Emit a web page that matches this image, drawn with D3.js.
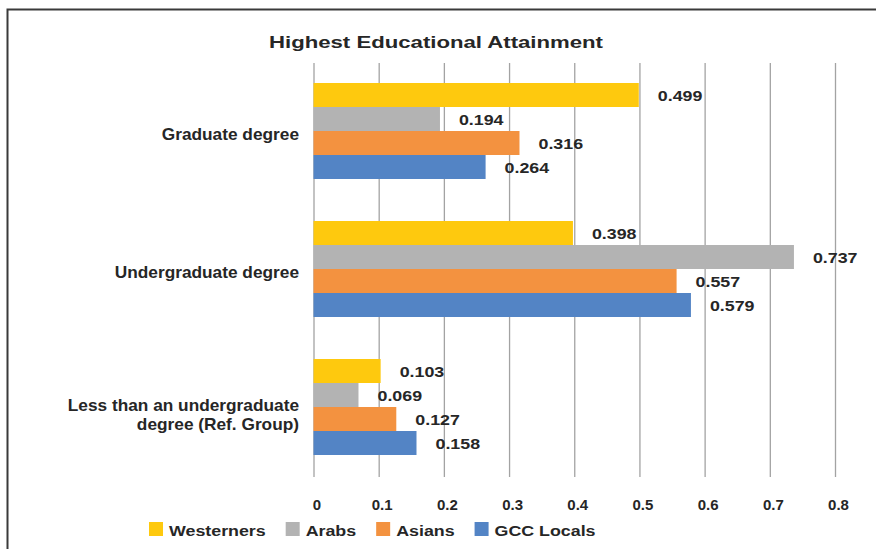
<!DOCTYPE html>
<html>
<head>
<meta charset="utf-8">
<script src="https://cdn.jsdelivr.net/npm/d3@7"></script>
<style>
  html, body { margin: 0; padding: 0; background: #fff; }
  svg { display: block; font-family: "Liberation Sans", Arial, Helvetica, sans-serif; }
</style>
</head>
<body>
<svg id="chart" width="876" height="549"></svg>
<script>
// ---- data ----
const chartTitle = "Highest Educational Attainment";
const categories = ["Graduate degree", "Undergraduate degree", "Less than an undergraduate\ndegree (Ref. Group)"];
const seriesNames = ["Westerners", "Arabs", "Asians", "GCC Locals"];
const westerners = [0.499, 0.398, 0.103];
const arabs      = [0.194, 0.737, 0.069];
const asians     = [0.316, 0.557, 0.127];
const gccLocals  = [0.264, 0.579, 0.158];
const tickValues = [0, 0.1, 0.2, 0.3, 0.4, 0.5, 0.6, 0.7, 0.8];
const tickLabels = ["0", "0.1", "0.2", "0.3", "0.4", "0.5", "0.6", "0.7", "0.8"];
const seriesColors = ["#FEC90E", "#B3B3B3", "#F39240", "#5384C5"];

const seriesValues = [westerners, arabs, asians, gccLocals];
const rows = [];
categories.forEach((c, ci) => {
  seriesNames.forEach((s, si) => rows.push({ category: c, series: s, si, value: seriesValues[si][ci] }));
});

const svg = d3.select("#chart");
const textColor = "#262626";

// frame
svg.append("rect")
  .attr("x", 7.5).attr("y", 9.5)
  .attr("width", 900).attr("height", 600)
  .attr("fill", "none").attr("stroke", "#3a3a3a").attr("stroke-width", 2);

// scales
const plotTop = 63, plotBottom = 477;
const x = d3.scaleLinear().domain([0, 0.8]).range([313.5, 835]);
const y0 = d3.scaleBand().domain(categories).range([plotTop - 1, plotBottom - 1]).padding(0);
const y1 = d3.scaleBand().domain(seriesNames).range([0, y0.bandwidth()])
  .paddingInner(0).paddingOuter(0.875);
const color = d3.scaleOrdinal().domain(seriesNames).range(seriesColors);

// gridlines + tick labels via axis
const axis = d3.axisBottom(x)
  .tickValues(tickValues)
  .tickFormat((d, i) => tickLabels[i])
  .tickSize(-(plotBottom - plotTop))
  .tickPadding(22);
const gAxis = svg.append("g").attr("transform", `translate(0,${plotBottom})`).call(axis);
gAxis.select(".domain").remove();
gAxis.selectAll(".tick line").attr("stroke", "#a3a3a3").attr("stroke-width", 1.3);
gAxis.selectAll(".tick text")
  .attr("fill", textColor).attr("font-size", 15).attr("font-weight", "bold")
  .attr("transform", "translate(3,0)")
  .attr("font-family", "'Liberation Sans', Arial, sans-serif");

// bars
svg.append("g").selectAll("rect").data(rows).join("rect")
  .attr("x", x(0))
  .attr("y", d => y0(d.category) + y1(d.series))
  .attr("width", d => x(d.value) - x(0))
  .attr("height", y1.bandwidth())
  .attr("fill", d => color(d.series));

// value labels (horizontally widened glyphs like the reference)
const labelStretch = 1.15;
svg.append("g").selectAll("text").data(rows).join("text")
  .attr("transform", d => `translate(${x(d.value) + 19},${y0(d.category) + y1(d.series) + y1.bandwidth() / 2 + 6}) scale(${labelStretch},1)`)
  .attr("fill", textColor).attr("font-size", 15.5).attr("font-weight", "bold")
  .text(d => d3.format(".3f")(d.value));

// category labels
const catG = svg.append("g");
categories.forEach(c => {
  const lines = c.split("\n");
  const cy = y0(c) + y0.bandwidth() / 2;
  const startY = lines.length === 1 ? cy + 9 : cy + 4;
  const t = catG.append("text")
    .attr("transform", `translate(299,${startY}) scale(1.08,1)`)
    .attr("text-anchor", "end")
    .attr("fill", textColor).attr("font-size", 16).attr("font-weight", "bold");
  lines.forEach((ln, i) => {
    t.append("tspan").attr("x", 0).attr("y", i * 19).text(ln);
  });
});

// title
svg.append("text")
  .attr("x", 436).attr("y", 48)
  .attr("text-anchor", "middle")
  .attr("fill", textColor).attr("font-size", 17).attr("font-weight", "bold")
  .attr("textLength", 334).attr("lengthAdjust", "spacingAndGlyphs")
  .text(chartTitle);

// legend
const legend = svg.append("g");
const legendStretch = 1.15;
let lx = 149;
seriesNames.forEach((s, i) => {
  legend.append("rect")
    .attr("x", lx).attr("y", 522).attr("width", 14).attr("height", 14)
    .attr("fill", color(s));
  const t = legend.append("text")
    .attr("transform", `translate(${lx + 20},536) scale(${legendStretch},1)`)
    .attr("fill", textColor).attr("font-size", 15.5).attr("font-weight", "bold")
    .text(s);
  lx += 20 + t.node().getComputedTextLength() * legendStretch + 20;
});
</script>
</body>
</html>
